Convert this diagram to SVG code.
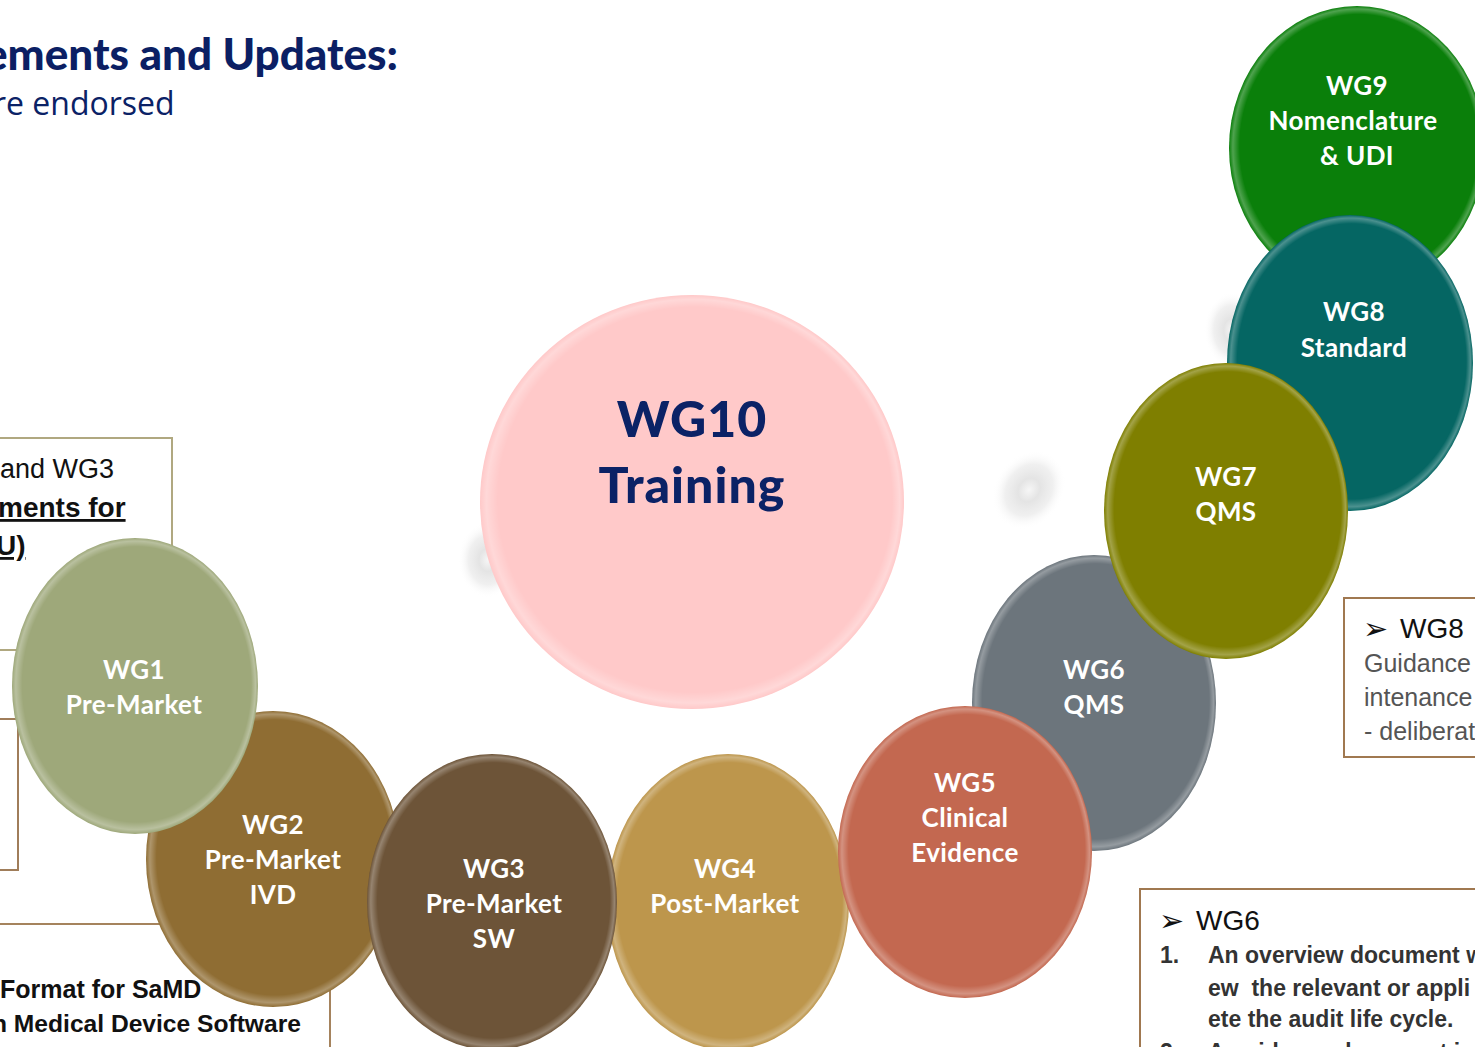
<svg xmlns="http://www.w3.org/2000/svg" width="1475" height="1047" viewBox="0 0 1475 1047">
<defs>
<radialGradient id="rim" cx="0.5" cy="0.5" r="0.5" fx="0.6" fy="0.42">
<stop offset="0" stop-color="#fff" stop-opacity="0"/>
<stop offset="0.93" stop-color="#fff" stop-opacity="0"/>
<stop offset="0.975" stop-color="#fff" stop-opacity="0.28"/>
<stop offset="1" stop-color="#fff" stop-opacity="0"/>
</radialGradient>
<radialGradient id="blob" cx="0.5" cy="0.5" r="0.5">
<stop offset="0" stop-color="#f6f6f6"/>
<stop offset="0.3" stop-color="#e4e4e4"/>
<stop offset="0.65" stop-color="#ececec" stop-opacity="0.8"/>
<stop offset="1" stop-color="#ffffff" stop-opacity="0"/>
</radialGradient>
</defs>
<style>
.t{font-family:"Lato","DejaVu Sans",sans-serif;font-weight:bold;fill:#fff;font-size:26px;text-anchor:middle;letter-spacing:0.4px}
.big{font-family:"Lato","DejaVu Sans",sans-serif;font-weight:900;fill:#0b2266;font-size:50px;text-anchor:middle;letter-spacing:1px}
.box{fill:none;stroke-width:2}
.cal{font-family:"Liberation Sans","Open Sans",sans-serif}
.arr{font-family:"DejaVu Sans",sans-serif;font-size:30px;font-weight:bold;fill:#111}
.rim{fill:url(#rim)}
</style>
<rect width="1475" height="1047" fill="#fff"/>

<g id="header">
<text x="-16" y="70" font-family="Lato,sans-serif" font-weight="900" font-size="44" fill="#0b1f64">ements and Updates:</text>
<text x="-7" y="115" font-family="Open Sans,sans-serif" font-size="32" fill="#0b2266">re endorsed</text>
</g>

<g id="box-left-top">
<polyline class="box" stroke="#b0a880" points="0,438 172,438 172,560"/>
<line class="box" stroke="#b0a880" x1="0" y1="650" x2="16" y2="650"/>
<text class="cal" x="0" y="478" font-size="27" fill="#111">and WG3</text>
<text class="cal" x="-2" y="517" font-size="28" font-weight="bold" fill="#111" text-decoration="underline">ments for</text>
<text class="cal" x="-4" y="555" font-size="28" font-weight="bold" fill="#111" text-decoration="underline">U)</text>
</g>
<g id="box-left-mid">
<polyline class="box" stroke="#a07d5a" points="0,719 18,719 18,870 0,870"/>
</g>
<g id="box-left-bottom">
<polyline class="box" stroke="#a5835d" points="0,924 330,924 330,1047"/>
<text class="cal" x="0" y="998" font-size="25" font-weight="bold" fill="#111">Format for SaMD</text>
<text class="cal" x="-8" y="1032" font-size="24.6" font-weight="bold" fill="#111">n Medical Device Software</text>
</g>

<g id="blobs">
<ellipse cx="1029" cy="490" rx="34" ry="42" transform="rotate(35 1029 490)" fill="url(#blob)"/>
<ellipse cx="488" cy="560" rx="30" ry="38" fill="url(#blob)"/>
<ellipse cx="1232" cy="330" rx="28" ry="38" fill="url(#blob)"/>
</g>

<g id="wg10">
<ellipse cx="692" cy="502" rx="212" ry="207" fill="#ffc9c9"/>
<ellipse class="rim" cx="692" cy="502" rx="212" ry="207"/>
<text class="big" x="692" y="437">WG10</text>
<text class="big" x="692" y="503">Training</text>
</g>

<g id="wg9">
<ellipse cx="1357" cy="148" rx="128" ry="142" fill="#0a7f0a"/>
<ellipse class="rim" cx="1357" cy="148" rx="128" ry="142"/>
<text class="t" x="1357" y="95">WG9</text>
<text class="t" x="1353" y="130">Nomenclature</text>
<text class="t" x="1357" y="165">&amp; UDI</text>
</g>
<g id="wg8">
<ellipse cx="1350" cy="363" rx="123" ry="148" fill="#056663"/>
<ellipse class="rim" cx="1350" cy="363" rx="123" ry="148"/>
<text class="t" x="1354" y="321">WG8</text>
<text class="t" x="1354" y="357">Standard</text>
</g>
<g id="wg6">
<ellipse cx="1094" cy="703" rx="122" ry="148" fill="#6c757c"/>
<ellipse class="rim" cx="1094" cy="703" rx="122" ry="148"/>
<text class="t" x="1094" y="679">WG6</text>
<text class="t" x="1094" y="714">QMS</text>
</g>
<g id="wg7">
<ellipse cx="1226" cy="511" rx="122" ry="148" fill="#7f7f00"/>
<ellipse class="rim" cx="1226" cy="511" rx="122" ry="148"/>
<text class="t" x="1226" y="486">WG7</text>
<text class="t" x="1226" y="521">QMS</text>
</g>
<g id="wg4">
<ellipse cx="728" cy="902" rx="121" ry="148" fill="#bd964c"/>
<ellipse class="rim" cx="728" cy="902" rx="121" ry="148"/>
<text class="t" x="725" y="878">WG4</text>
<text class="t" x="725" y="913">Post-Market</text>
</g>
<g id="wg5">
<ellipse cx="965" cy="852" rx="127" ry="146" fill="#c36850"/>
<ellipse class="rim" cx="965" cy="852" rx="127" ry="146"/>
<text class="t" x="965" y="792">WG5</text>
<text class="t" x="965" y="827">Clinical</text>
<text class="t" x="965" y="862">Evidence</text>
</g>
<g id="wg2">
<ellipse cx="273" cy="859" rx="127" ry="148" fill="#8f6d33"/>
<ellipse class="rim" cx="273" cy="859" rx="127" ry="148"/>
<text class="t" x="273" y="834">WG2</text>
<text class="t" x="273" y="869">Pre-Market</text>
<text class="t" x="273" y="904">IVD</text>
</g>
<g id="wg3">
<ellipse cx="492" cy="902" rx="125" ry="148" fill="#6d5438"/>
<ellipse class="rim" cx="492" cy="902" rx="125" ry="148"/>
<text class="t" x="494" y="878">WG3</text>
<text class="t" x="494" y="913">Pre-Market</text>
<text class="t" x="494" y="948">SW</text>
</g>
<g id="wg1">
<ellipse cx="135" cy="686" rx="123" ry="148" fill="#9ea87a"/>
<ellipse class="rim" cx="135" cy="686" rx="123" ry="148"/>
<text class="t" x="134" y="679">WG1</text>
<text class="t" x="134" y="714">Pre-Market</text>
</g>

<g id="box-wg8">
<polyline class="box" stroke="#a07850" points="1476,598 1344,598 1344,757 1476,757"/>
<text class="arr" x="1363" y="639">➢</text>
<text class="cal" x="1400" y="638" font-size="28" fill="#111">WG8</text>
<text class="cal" x="1364" y="672" font-size="25" fill="#555">Guidance</text>
<text class="cal" x="1364" y="706" font-size="25" fill="#555">intenance</text>
<text class="cal" x="1364" y="740" font-size="25" fill="#555">- deliberat</text>
</g>
<g id="box-wg6">
<polyline class="box" stroke="#a07850" points="1476,889 1140,889 1140,1048"/>
<text class="arr" x="1159" y="931">➢</text>
<text class="cal" x="1196" y="930" font-size="28" fill="#111">WG6</text>
<text class="cal" x="1160" y="963" font-size="23" font-weight="bold" fill="#333">1.</text>
<text class="cal" x="1208" y="963" font-size="23" font-weight="bold" fill="#333">An overview document w</text>
<text class="cal" x="1208" y="996" font-size="23" font-weight="bold" fill="#333" xml:space="preserve">ew  the relevant or appli</text>
<text class="cal" x="1208" y="1027" font-size="23" font-weight="bold" fill="#333">ete the audit life cycle.</text>
<text class="cal" x="1160" y="1060" font-size="23" font-weight="bold" fill="#333">2.</text>
<text class="cal" x="1208" y="1060" font-size="23" font-weight="bold" fill="#333">A guidance document in</text>
</g>
</svg>
